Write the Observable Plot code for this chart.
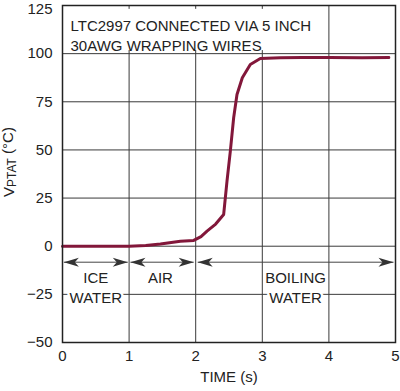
<!DOCTYPE html>
<html>
<head>
<meta charset="utf-8">
<script src="https://cdn.jsdelivr.net/npm/d3@7"></script>
<script src="https://cdn.jsdelivr.net/npm/@observablehq/plot@0.6"></script>
<style>
  html, body { margin: 0; padding: 0; background: #fff; }
  #chart svg { display: block; }
</style>
</head>
<body>
<div id="chart"></div>
<script>
// ---- data ----
const time  = [0, 0.5, 1.0, 1.25, 1.47, 1.77, 1.97, 2.08, 2.17, 2.3, 2.42, 2.47, 2.52, 2.57, 2.62, 2.70, 2.82, 2.97, 3.27, 3.6, 4.0, 4.5, 4.9];
const vptat = [0, 0, 0, 0.4, 1.2, 2.6, 3.0, 5.0, 7.8, 11.5, 16.5, 33.8, 49.4, 66.7, 78.8, 87.5, 94.4, 97.5, 97.9, 98.0, 98.0, 97.9, 98.0];

const xTicks = [0, 1, 2, 3, 4, 5];
const yTicks = [-50, -25, 0, 25, 50, 75, 100, 125];
const xGrid = [1, 2, 3, 4];
const yGrid = [-25, 0, 25, 50, 75, 100];

const arrowY = -8.3;
const segStart = [0.02, 1.02, 2.03];
const segEnd   = [0.98, 1.97, 4.97];

const regionX     = [0.5, 1.47, 3.5];
const regionLine1 = ["ICE", "AIR", "BOILING"];
const regionLine2 = ["WATER", "", "WATER"];
const regionY1 = -16.6;
const regionY2 = -27;

const titleText = "LTC2997 CONNECTED VIA 5 INCH\n30AWG WRAPPING WIRES";
const titleBoxX = [0, 3.8];
const titleBoxY = [101.6, 123];

const xLabel = "TIME (s)";

// ---- styles ----
const FONT = "'Liberation Sans', Arial, Helvetica, sans-serif";
const FS = 15;
const INK = "#222";
const GRID = "#3a3a3a";
const CURVE = "#82173a";

const series = time.map((t, i) => ({t, v: vptat[i]}));
const segs = segStart.map((s, i) => ({x1: s, x2: segEnd[i]}));
const regions = regionX.map((x, i) => ({x, l1: regionLine1[i], l2: regionLine2[i]}));
const fmtY = d => (d < 0 ? "\u2212" + Math.abs(d) : String(d));
const yTop = yTicks[yTicks.length - 1];

const dartRight = {draw(ctx) { ctx.moveTo(0, 0); ctx.lineTo(-15, -4.5); ctx.lineTo(-11, 0); ctx.lineTo(-15, 4.5); ctx.closePath(); }};
const dartLeft  = {draw(ctx) { ctx.moveTo(0, 0); ctx.lineTo(15, -4.5); ctx.lineTo(11, 0); ctx.lineTo(15, 4.5); ctx.closePath(); }};

const chart = Plot.plot({
  width: 400,
  height: 391,
  marginLeft: 62,
  marginRight: 5,
  marginTop: 5,
  marginBottom: 49,
  style: {fontFamily: FONT, fontSize: FS + "px", color: INK, background: "#fff"},
  x: {domain: [0, 5], ticks: xTicks, tickSize: 0, tickPadding: 8, label: null, tickFormat: d => String(d)},
  y: {domain: [-50, 125], axis: null},
  marks: [
    Plot.ruleX(xGrid, {stroke: GRID, strokeWidth: 1}),
    Plot.ruleY(yGrid, {stroke: GRID, strokeWidth: 1}),
    Plot.rect([{x1: titleBoxX[0], x2: titleBoxX[1], y1: titleBoxY[0], y2: titleBoxY[1]}], {x1: "x1", x2: "x2", y1: "y1", y2: "y2", fill: "#fff"}),
    Plot.text([titleText], {frameAnchor: "top-left", text: d => d, textAnchor: "start", lineAnchor: "top", dx: 8, dy: 12, lineHeight: 1.3, fontSize: FS, fill: INK}),
    Plot.link(segs, {x1: "x1", x2: "x2", y1: arrowY, y2: arrowY, stroke: "#444", strokeWidth: 1}),
    Plot.dot(segs, {x: "x1", y: arrowY, symbol: dartLeft, fill: "#333", stroke: "none", r: 4}),
    Plot.dot(segs, {x: "x2", y: arrowY, symbol: dartRight, fill: "#333", stroke: "none", r: 4}),
    Plot.text(regions, {x: "x", y: regionY1, text: "l1", fill: INK, stroke: "#fff", strokeWidth: 5, paintOrder: "stroke", fontSize: FS}),
    Plot.text(regions, {x: "x", y: regionY2, text: "l2", fill: INK, stroke: "#fff", strokeWidth: 5, paintOrder: "stroke", fontSize: FS}),
    Plot.line(series, {x: "t", y: "v", stroke: CURVE, strokeWidth: 3, strokeLinejoin: "round", strokeLinecap: "round"}),
    // y tick labels (the top one sits a little lower, as in the reference)
    Plot.text(yTicks.filter(d => d !== yTop), {frameAnchor: "left", y: d => d, text: fmtY, textAnchor: "end", dx: -10, fontSize: FS, fill: INK}),
    Plot.text([yTop], {frameAnchor: "left", y: d => d, text: fmtY, textAnchor: "end", dx: -10, dy: 4, fontSize: FS, fill: INK}),
    Plot.text([xLabel], {frameAnchor: "bottom", text: d => d, dy: 39, fontSize: FS, fill: INK}),
    Plot.frame({stroke: INK, strokeWidth: 1.5})
  ]
});

const svg = d3.select(chart);
// y-axis label with subscript
const yl = svg.append("text")
  .attr("transform", "translate(14,162) rotate(-90)")
  .attr("text-anchor", "middle")
  .attr("fill", INK)
  .style("font-family", FONT)
  .style("font-size", FS + "px");
yl.append("tspan").text("V");
yl.append("tspan").attr("dy", "0.2em").style("font-size", "12px").text("PTAT");
yl.append("tspan").attr("dy", "-0.2em").text(" (°C)");

document.getElementById("chart").appendChild(chart);
</script>
</body>
</html>
